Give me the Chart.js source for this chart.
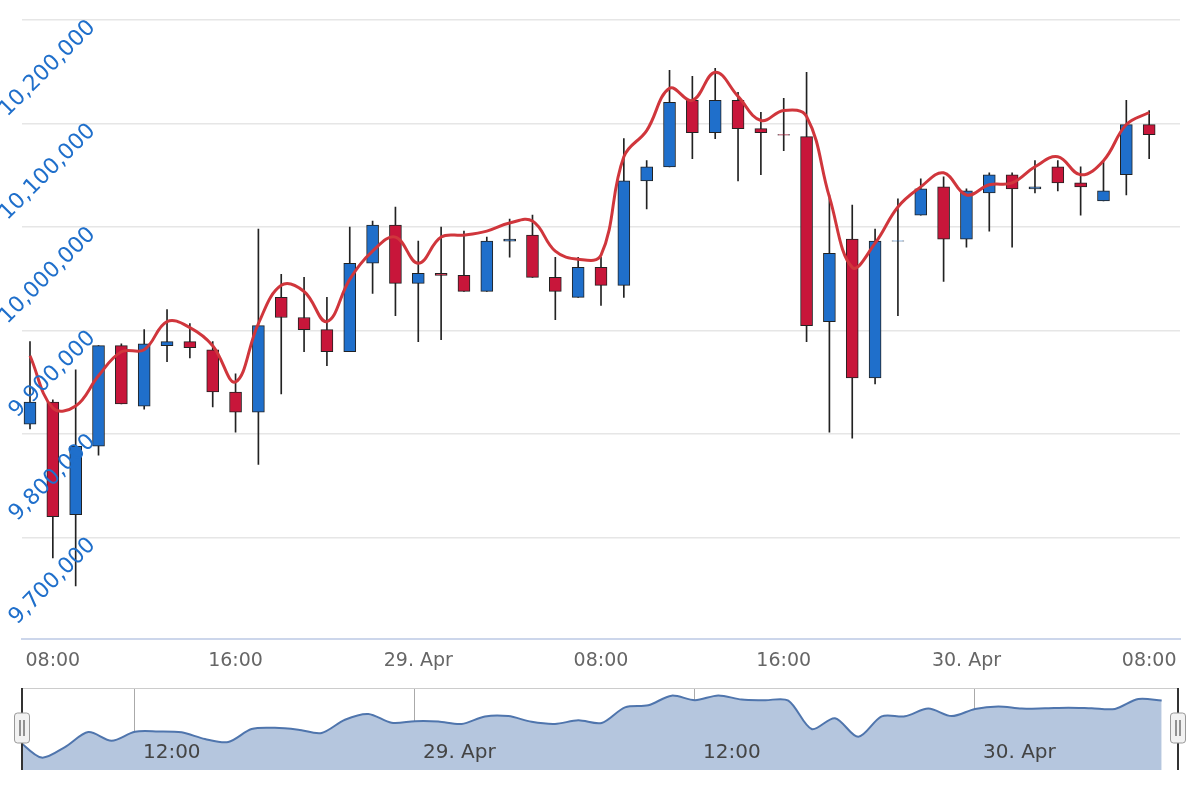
<!DOCTYPE html>
<html>
<head>
<meta charset="utf-8">
<script src="https://cdn.jsdelivr.net/npm/chart.js@4"></script>
<style>
  body { margin: 0; background: #fff; }
  #main { position: absolute; left: 0; top: 0; width: 1200px; height: 680px; }
  #nav { position: absolute; left: 0; top: 680px; width: 1200px; height: 120px; }
</style>
</head>
<body>
<div id="main"><canvas id="mainChart"></canvas></div>
<div id="nav"><canvas id="navChart"></canvas></div>
<script>
// hours counted from 28 Apr 00:00, one candle per hour
const hours = [7,8,9,10,11,12,13,14,15,16,17,18,19,20,21,22,23,24,25,26,27,28,29,30,31,32,33,34,35,36,37,38,39,40,41,42,43,44,45,46,47,48,49,50,51,52,53,54,55,56];
const opens = [9809700,9831000,9722300,9788300,9885400,9827100,9885400,9889300,9881500,9840700,9821300,9932000,9912600,9900900,9879600,9965000,10001900,9945600,9955300,9953400,9937800,9986400,9992200,9951400,9932000,9961100,9943700,10044600,10058200,10122300,10091200,10122300,10095100,10089300,10087400,9908700,9988300,9854300,9986400,10011600,10038800,9988300,10033000,10050500,10036900,10058200,10042700,10025200,10050500,10099000];
const highs = [9889300,9833000,9862100,9885400,9887300,9900900,9920400,9906800,9889300,9858200,9998000,9954300,9951400,9932000,10000000,10005800,10019400,9986400,10000000,9996100,9990300,10007700,10011600,9970800,9970800,9970800,10085400,10064100,10151500,10145600,10153400,10130100,10110700,10124300,10149500,10031000,10021300,9998000,10027200,10046600,10048500,10036900,10052400,10052400,10064100,10064100,10058200,10064100,10122300,10112600];
const lows = [9805000,9680500,9653300,9779600,9829100,9824200,9869900,9873700,9826200,9801900,9770800,9838800,9879600,9866000,9879600,9935900,9914500,9889300,9891200,9937800,9937800,9970800,9951400,9910600,9932000,9924200,9932000,10017500,10058200,10066000,10085400,10044600,10050500,10073800,9889300,9801900,9796100,9848500,9914500,10011600,9947500,9980600,9996100,9980600,10033000,10034900,10011600,10025200,10031000,10066000];
const closes = [9831000,9720300,9788300,9885400,9829100,9887300,9889300,9883400,9840700,9821300,9904800,9912600,9900900,9879600,9965000,10001900,9945600,9955300,9953400,9937800,9986400,9988300,9951400,9937800,9961100,9943700,10044600,10058200,10120400,10091200,10122300,10095100,10091200,10088800,9904800,9974700,9854300,9986400,9986800,10036900,9988300,10034900,10050500,10036900,10038800,10042700,10038800,10034900,10099000,10089300];
const trend = [9875700,9825200,9827100,9856300,9879600,9881500,9908700,9902900,9885400,9850400,9906800,9943700,9937800,9908700,9949500,9976700,9990300,9965000,9990300,9992200,9996100,10003900,10005800,9976700,9968900,9972800,10067900,10093200,10134000,10122300,10149500,10126200,10102900,10112600,10106800,10029100,9961100,9984400,10019400,10038800,10052400,10031000,10040800,10042700,10058200,10067900,10050500,10064100,10099000,10110700];
const yTicks = [9700000,9800000,9900000,10000000,10100000,10200000];
const xTickLabels = { 8: '08:00', 16: '16:00', 24: '29. Apr', 32: '08:00', 40: '16:00', 48: '30. Apr', 56: '08:00' };
const navTickLabels = { 12: '12:00', 24: '29. Apr', 36: '12:00', 48: '30. Apr' };

const BLUE = '#1f6fcb', RED = '#c8163a';
const candleColor = hours.map((h, i) => closes[i] >= opens[i] ? BLUE : RED);

const yLabelPlugin = {
  id: 'yLabels',
  afterDraw(chart) {
    const { ctx, scales } = chart;
    ctx.save();
    ctx.font = '22px "DejaVu Sans"';
    ctx.fillStyle = '#1f6fcb';
    ctx.textAlign = 'right';
    ctx.textBaseline = 'bottom';
    yTicks.forEach(v => {
      const py = scales.y.getPixelForValue(v);
      ctx.save();
      ctx.translate(100, py + 12);
      ctx.rotate(-Math.PI / 4);
      ctx.fillText(v.toLocaleString('en-US'), 0, 0);
      ctx.restore();
    });
    ctx.restore();
  }
};

new Chart(document.getElementById('mainChart'), {
  type: 'bar',
  data: {
    datasets: [
      {
        type: 'line',
        data: hours.map((h, i) => ({ x: h, y: trend[i] })),
        borderColor: '#d0363c',
        borderWidth: 3,
        pointRadius: 0,
        tension: 0.4,
        order: 1,
      },
      {
        data: hours.map((h, i) => ({ x: h, y: [opens[i], closes[i]] })),
        backgroundColor: candleColor,
        borderColor: '#222',
        borderWidth: 1,
        borderSkipped: false,
        barThickness: 12,
        grouped: false,
        order: 2,
      },
      {
        data: hours.map((h, i) => ({ x: h, y: [lows[i], highs[i]] })),
        backgroundColor: '#222',
        borderWidth: 0,
        barThickness: 1,
        grouped: false,
        order: 3,
      },
    ],
  },
  options: {
    responsive: true,
    maintainAspectRatio: false,
    animation: false,
    layout: { padding: { left: 22, right: 20, top: 20, bottom: 6 } },
    plugins: { legend: { display: false }, tooltip: { enabled: false } },
    scales: {
      x: {
        type: 'linear',
        offset: false,
        min: 6.65,
        max: 57.35,
        afterBuildTicks: (axis) => { axis.ticks = Object.keys(xTickLabels).map(k => ({ value: +k })); },
        ticks: {
          color: '#666',
          font: { family: 'DejaVu Sans', size: 19 },
          maxRotation: 0,
          padding: 2,
          callback: (v) => xTickLabels[v] || '',
        },
        grid: { display: false, drawOnChartArea: false, offset: false },
        border: { color: '#ccd6eb', width: 2 },
      },
      y: {
        min: 9601900,
        max: 10200000,
        afterBuildTicks: (axis) => { axis.ticks = yTicks.map(v => ({ value: v })); },
        afterFit: (axis) => { axis.width = 0; },
        ticks: { display: false },
        grid: { color: '#e6e6e6', lineWidth: 1.5, drawTicks: false },
        border: { display: false },
      },
    },
  },
  plugins: [yLabelPlugin],
});

const navHandlePlugin = {
  id: 'navHandles',
  afterDraw(chart) {
    const { ctx, chartArea: a, scales } = chart;
    ctx.save();
    ctx.font = '20px "DejaVu Sans"';
    ctx.fillStyle = '#444';
    ctx.textBaseline = 'middle';
    Object.keys(navTickLabels).forEach(k => {
      ctx.fillText(navTickLabels[k], scales.x.getPixelForValue(+k) + 8, a.bottom - 17);
    });
    ctx.strokeStyle = '#ccc';
    ctx.lineWidth = 1;
    ctx.beginPath();
    ctx.moveTo(a.left, a.top + 0.5); ctx.lineTo(a.right, a.top + 0.5);
    ctx.stroke();
    ctx.strokeStyle = '#333';
    ctx.lineWidth = 2;
    ctx.beginPath();
    ctx.moveTo(a.left, a.top); ctx.lineTo(a.left, a.bottom);
    ctx.moveTo(a.right, a.top); ctx.lineTo(a.right, a.bottom);
    ctx.stroke();
    [a.left, a.right].forEach(x => {
      ctx.fillStyle = '#f2f2f2';
      ctx.strokeStyle = '#999';
      ctx.lineWidth = 1;
      ctx.beginPath();
      ctx.roundRect(x - 7.5, a.top + 25, 15, 30, 3);
      ctx.fill(); ctx.stroke();
      ctx.strokeStyle = '#333';
      ctx.beginPath();
      ctx.moveTo(x - 2, a.top + 32); ctx.lineTo(x - 2, a.top + 48);
      ctx.moveTo(x + 2, a.top + 32); ctx.lineTo(x + 2, a.top + 48);
      ctx.stroke();
    });
    ctx.restore();
  }
};

new Chart(document.getElementById('navChart'), {
  type: 'line',
  data: {
    datasets: [{
      data: hours.map((h, i) => ({ x: h, y: closes[i] })),
      borderColor: '#4f75ad',
      borderWidth: 2,
      backgroundColor: '#b5c6de',
      fill: 'start',
      pointRadius: 0,
      tension: 0.3,
    }],
  },
  options: {
    responsive: true,
    maintainAspectRatio: false,
    animation: false,
    layout: { padding: { left: 22, right: 22, top: 8, bottom: 30 } },
    plugins: { legend: { display: false }, tooltip: { enabled: false } },
    scales: {
      x: {
        type: 'linear',
        display: true,
        min: 7.16,
        max: 56.7,
        afterBuildTicks: (axis) => { axis.ticks = Object.keys(navTickLabels).map(k => ({ value: +k })); },
        ticks: { display: false },
        grid: { color: '#aaa', drawTicks: false },
        border: { display: false },
      },
      y: {
        display: false,
        min: 9640000,
        max: 10170000,
      },
    },
  },
  plugins: [navHandlePlugin],
});
</script>
</body>
</html>
